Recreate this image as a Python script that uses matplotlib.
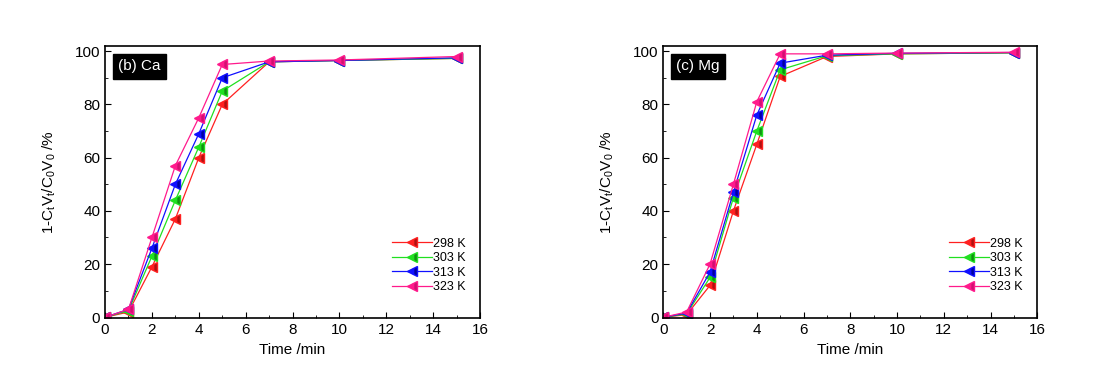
import matplotlib
matplotlib.use("Agg")
import matplotlib.pyplot as plt
from matplotlib.ticker import MultipleLocator

plt.rcParams['font.family'] = ['Liberation Sans', 'DejaVu Sans']

time = [0, 1, 2, 3, 4, 5, 7, 10, 15]
temps = ['298 K', '303 K', '313 K', '323 K']
colors = ['#ff2020', '#20e020', '#1010ff', '#ff1a8c']
alt_colors = ['#b01010', '#109010', '#0000a0', '#d01070']

ca_298 = [0, 2, 19, 37, 60, 80, 96, 96.5, 97.3]
ca_303 = [0, 2.5, 23, 44, 64, 85, 96, 96.5, 97.3]
ca_313 = [0, 3, 26, 50, 69, 90, 96, 96.5, 97.5]
ca_323 = [0, 3, 30, 57, 75, 95, 96.3, 96.7, 98]

mg_298 = [0, 1, 12, 40, 65, 90.5, 98, 99, 99.4]
mg_303 = [0, 1.3, 15, 45, 70, 93, 98.3, 99, 99.4]
mg_313 = [0, 1.6, 17, 47, 76, 95.5, 98.5, 99.2, 99.5]
mg_323 = [0, 2, 20, 50, 81, 99, 99, 99.3, 99.6]

ca_series = [ca_298, ca_303, ca_313, ca_323]
mg_series = [mg_298, mg_303, mg_313, mg_323]

fig = plt.figure(figsize=(11, 3.76), dpi=100)
ax1 = fig.add_axes([0.0955, 0.154, 0.341, 0.724])
ax2 = fig.add_axes([0.603, 0.154, 0.340, 0.724])

for ax, series, label in [(ax1, ca_series, '(b) Ca'), (ax2, mg_series, '(c) Mg')]:
    for s, c, ca, t in zip(series, colors, alt_colors, temps):
        ax.plot(time, s, color=c, lw=0.9, marker='<', ms=7, mfc=ca,
                mec=c, mew=1.0, fillstyle='right', markerfacecoloralt=c,
                label=t)
    ax.set_xlim(0, 16)
    ax.set_ylim(-0.3, 102)
    ax.xaxis.set_major_locator(MultipleLocator(2))
    ax.xaxis.set_minor_locator(MultipleLocator(1))
    ax.yaxis.set_major_locator(MultipleLocator(20))
    ax.yaxis.set_minor_locator(MultipleLocator(10))
    ax.tick_params(which='both', direction='in', top=False, right=False, labelsize=11)
    ax.tick_params(which='major', length=4)
    ax.tick_params(which='minor', length=2)
    for sp in ax.spines.values():
        sp.set_linewidth(1.2)
    ax.set_xlabel('Time /min', fontsize=11)
    ax.set_ylabel(r'1-C$_\mathregular{t}$V$_\mathregular{t}$/C$_\mathregular{0}$V$_\mathregular{0}$ /%',
                  fontsize=11, labelpad=12)
    ax.text(0.035, 0.95, label, transform=ax.transAxes, color='white', fontsize=11,
            va='top', ha='left',
            bbox=dict(boxstyle='square,pad=0.35', fc='black', ec='black'))
    ax.legend(loc='lower right', bbox_to_anchor=(0.985, 0.06), frameon=False, fontsize=9,
              handlelength=3.2, labelspacing=0.2, handletextpad=0.1, borderpad=0.2)

fig.savefig('out.png', dpi=100)
